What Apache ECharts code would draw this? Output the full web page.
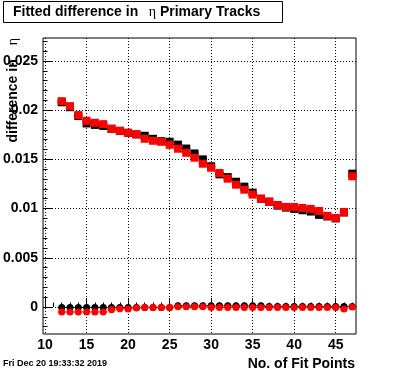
<!DOCTYPE html>
<html>
<head>
<meta charset="utf-8">
<script src="https://cdn.jsdelivr.net/npm/echarts@6/dist/echarts.min.js"></script>
<style>html,body{margin:0;padding:0;background:#fff}#c{width:396px;height:372px}</style>
</head>
<body>
<div id="c"></div>
<script>
const nFit = [12,13,14,15,16,17,18,19,20,21,22,23,24,25,26,27,28,29,30,31,32,33,34,35,36,37,38,39,40,41,42,43,44,45,46,47];
const blackSq = [0.0208,0.0203,0.0194,0.01865,0.0185,0.0184,0.01811,0.0179,0.0177,0.01754,0.0174,0.01709,0.01685,0.01679,0.0165,0.0161,0.0156,0.0150,0.0143,0.01348,0.0132,0.01273,0.01223,0.01162,0.0110,0.0107,0.0103,0.0101,0.00997,0.00983,0.0097,0.00936,0.0092,0.0090,0.0096,0.01355];
const redSq = [0.02091,0.02041,0.01950,0.01892,0.01872,0.01858,0.01811,0.01790,0.01770,0.01754,0.01709,0.01689,0.01679,0.01648,0.01608,0.01567,0.01517,0.01456,0.01415,0.01362,0.01304,0.01243,0.01192,0.01142,0.01101,0.01071,0.01037,0.01017,0.01017,0.01007,0.00997,0.00976,0.00926,0.00905,0.00966,0.01328];
const blackCirc = [-0.00004,-0.00004,-0.00004,-0.00004,-0.00004,-0.00004,-0.00004,-0.00004,-0.00004,-0.00004,-0.00004,-0.00004,-0.00004,-0.00004,0.00012,0.00012,0.00012,0.00012,0.00012,0.00012,0.00012,0.00012,0.00012,0.00012,0.00012,0.00005,0.00005,0.00005,0.00005,0.00005,0.00005,0.00005,0.00005,0.00005,0.00005,0.00005];
const redCirc = [-0.0005,-0.0005,-0.0005,-0.0005,-0.0005,-0.0005,-0.00027,-0.00017,-0.0002,-0.0001,-0.00004,-0.00004,-0.00004,-0.00004,0.00002,0.00002,0.00002,0.00002,-0.00004,-0.00004,-0.00004,-0.00004,-0.00004,-0.00004,-0.00004,-0.00004,-0.00004,-0.00004,-0.00004,-0.00004,-0.00004,-0.00004,-0.00004,-0.00004,-0.0002,0.0];
const xMajor = [10,15,20,25,30,35,40,45];
const xMinor = [10,11,12,13,14,15,16,17,18,19,20,21,22,23,24,25,26,27,28,29,30,31,32,33,34,35,36,37,38,39,40,41,42,43,44,45,46,47];
const yMajor = [0,0.005,0.01,0.015,0.02,0.025];
const yMinor = [-0.002,-0.001,0,0.001,0.002,0.003,0.004,0.005,0.006,0.007,0.008,0.009,0.01,0.011,0.012,0.013,0.014,0.015,0.016,0.017,0.018,0.019,0.02,0.021,0.022,0.023,0.024,0.025,0.026,0.027];
const titleText = 'Fitted difference in';
const titleSym = 'η';
const titleRest = ' Primary Tracks';
const xTitle = 'No. of Fit Points';
const yTitle = 'difference in';
const dateText = 'Fri Dec 20 19:33:32 2019';

const XMIN = 9.75, XMAX = 47.45, YMIN = -0.00274, YMAX = 0.02733;
const FONT = '"Liberation Sans", Arial, sans-serif';

function pairs(ys){ return nFit.map((x,i)=>[x, ys[i]]); }

function errBars(ys, color, z){
  return {
    type:'custom', xAxisIndex:0, yAxisIndex:0, z:z, silent:true,
    data: pairs(ys),
    renderItem: function(params, api){
      const x = api.value(0), y = api.value(1);
      const a = api.coord([x-0.5, y]), b = api.coord([x+0.5, y]);
      return {type:'line', shape:{x1:a[0], y1:a[1], x2:b[0], y2:b[1]}, style:{stroke:color, lineWidth:1}};
    }
  };
}
function marks(ys, color, symbol, size, z){
  return {type:'scatter', xAxisIndex:0, yAxisIndex:0, z:z, data: pairs(ys), symbol:symbol, symbolSize:size,
    itemStyle:{color:color, opacity:1}, emphasis:{disabled:true}, animation:false};
}

const chart = echarts.init(document.getElementById('c'), null, {renderer:'canvas'});
const grid = {left:42, top:38, right:40, bottom:38, show:true, borderColor:'#000', borderWidth:1, backgroundColor:'transparent'};
const lblStyle = {color:'#000', fontFamily:FONT, fontWeight:'bold', fontSize:14};
chart.setOption({
  animation:false,
  backgroundColor:'#fff',
  grid: grid,
  xAxis: [
    {type:'value', min:XMIN, max:XMAX, position:'bottom',
     axisLine:{show:false},
     axisTick:{show:true, inside:true, length:9, customValues:xMajor, lineStyle:{color:'#000'}},
     axisLabel:{show:true, customValues:xMajor, margin:4, ...lblStyle},
     splitLine:{show:true, lineStyle:{color:'#000', type:[1,2], width:1}}},
    {type:'value', min:XMIN, max:XMAX, position:'bottom',
     axisLine:{show:false},
     axisTick:{show:true, inside:true, length:4.5, customValues:xMinor, lineStyle:{color:'#000'}},
     axisLabel:{show:false}, splitLine:{show:false}}
  ],
  yAxis: [
    {type:'value', min:YMIN, max:YMAX, position:'left',
     axisLine:{show:false},
     axisTick:{show:true, inside:true, length:9, customValues:yMajor, lineStyle:{color:'#000'}},
     axisLabel:{show:true, customValues:yMajor, margin:5, ...lblStyle, formatter:(v)=>String(+v.toFixed(4))},
     splitLine:{show:true, lineStyle:{color:'#000', type:[1,2], width:1}}},
    {type:'value', min:YMIN, max:YMAX, position:'left',
     axisLine:{show:false},
     axisTick:{show:true, inside:true, length:4.5, customValues:yMinor, lineStyle:{color:'#000'}},
     axisLabel:{show:false}, splitLine:{show:false}}
  ],
  series: [
    errBars(blackCirc,'#000',2),
    marks(blackCirc,'#000','circle',7,3),
    errBars(redCirc,'#f00',4),
    marks(redCirc,'#f00','circle',7,5),
    errBars(blackSq,'#000',2),
    marks(blackSq,'#000','rect',8,3),
    errBars(redSq,'#000',4),
    marks(redSq,'#f00','rect',8,5)
  ],
  graphic: [
    {type:'rect', shape:{x:3.5, y:1.5, width:279, height:21}, style:{fill:'#fff', stroke:'#000', lineWidth:1}, z:10},
    {type:'text', x:13, y:12, z:11, style:{
      text:'{a|'+titleText+'}{s|   '+titleSym+'}{a|'+titleRest+'}',
      verticalAlign:'middle', align:'left',
      rich:{a:{fontFamily:FONT, fontWeight:'bold', fontSize:14, fill:'#000'},
            s:{fontFamily:'"Liberation Serif", serif', fontSize:14, fill:'#000'}}}},
    {type:'text', x:13, y:38, rotation:Math.PI/2, z:11, style:{
      text:'{a|'+yTitle+'}{s|    '+titleSym+'}',
      align:'right', verticalAlign:'middle',
      rich:{a:{fontFamily:FONT, fontWeight:'bold', fontSize:14, fill:'#000'},
            s:{fontFamily:'"Liberation Serif", serif', fontSize:14, fill:'#000'}}}},
    {type:'text', x:355, y:364, z:11, style:{text:xTitle, align:'right', verticalAlign:'middle',
      fontFamily:FONT, fontWeight:'bold', fontSize:14, fill:'#000'}},
    {type:'text', x:3, y:364, z:11, style:{text:dateText, align:'left', verticalAlign:'middle',
      fontFamily:FONT, fontWeight:'bold', fontSize:9, fill:'#000'}}
  ]
});
</script>
</body>
</html>
